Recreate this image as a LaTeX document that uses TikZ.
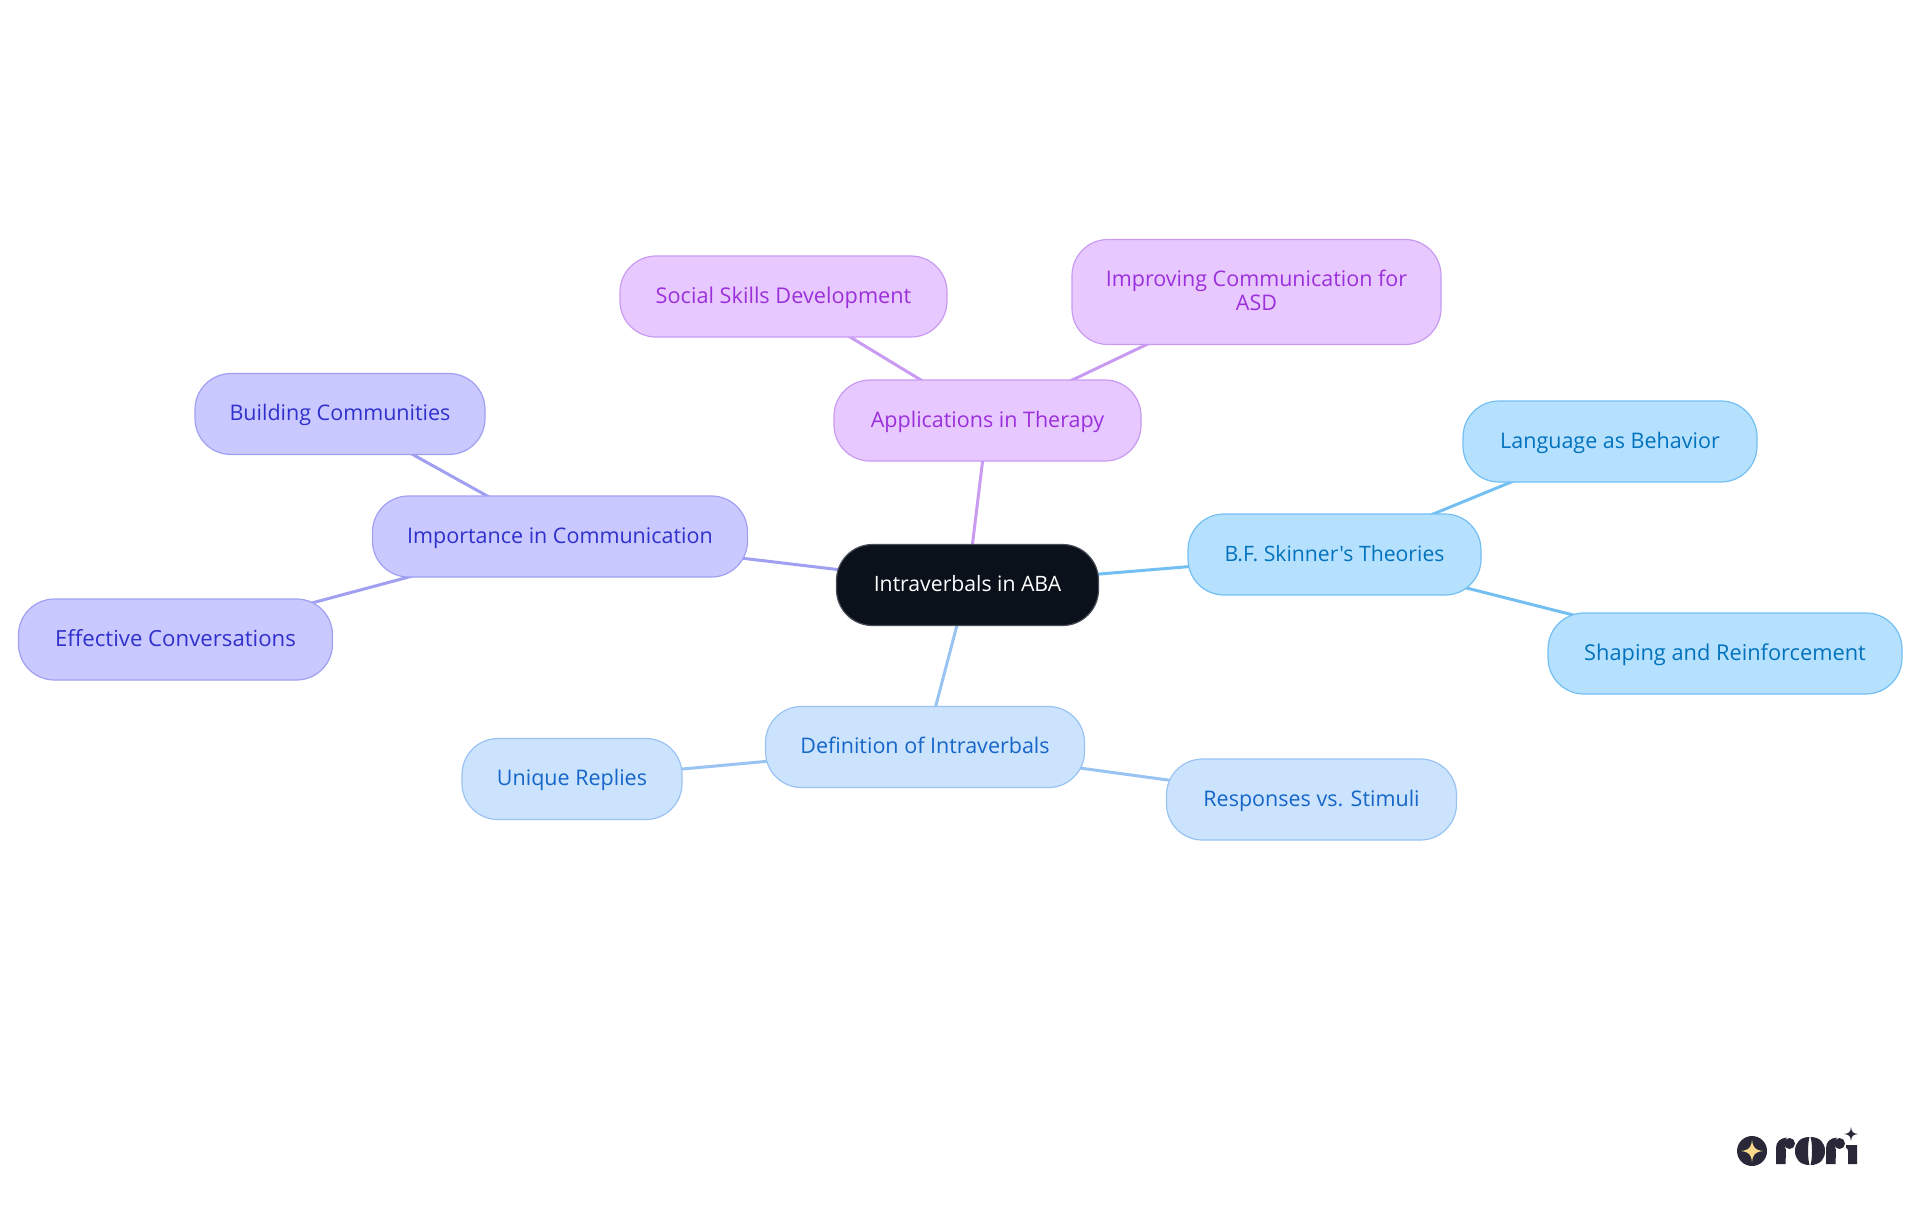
\documentclass[tikz,border=0pt]{standalone}
\usepackage{fontspec}
\setmainfont{Open Sans}[Ligatures=TeXOff]
\usetikzlibrary{backgrounds}
\definecolor{pf}{HTML}{E8C9FF}\definecolor{ps}{HTML}{C99AF2}\definecolor{pt}{HTML}{9B30DB}
\definecolor{if}{HTML}{C9C9FF}\definecolor{is}{HTML}{A09FF2}\definecolor{it}{HTML}{3030CC}
\definecolor{bf}{HTML}{CCE3FD}\definecolor{bs}{HTML}{99C3F2}\definecolor{bt}{HTML}{1566C8}
\definecolor{sf}{HTML}{B5E1FF}\definecolor{ss}{HTML}{74BFF2}\definecolor{st}{HTML}{0272BD}
\definecolor{rootf}{HTML}{0B111B}\definecolor{logoc}{HTML}{2A2838}\definecolor{stary}{HTML}{FBD98A}
\tikzset{x=0.5pt,y=-0.5pt,
 mm/.style={rounded corners=18pt,line width=0.6pt,inner sep=0pt,align=center,text height=8.3pt,text depth=1.7pt,font=\fontsize{10.75}{12}\selectfont},
 fs/.style={font=\fontsize{#1}{12}\selectfont},
 rootnode/.style={mm,fill=rootf,draw=rootf!75!white,text=white},
 pnode/.style={mm,fill=pf,draw=ps,text=pt},
 inode/.style={mm,fill=if,draw=is,text=it},
 bnode/.style={mm,fill=bf,draw=bs,text=bt},
 snode/.style={mm,fill=sf,draw=ss,text=st},
 edge/.style={line width=1.5pt},
 logoshape/.style={fill=logoc,draw=none}}
\newcommand{\rletter}{%
 \fill[logoshape] (1776,1164) -- (1776,1148) .. controls (1776,1142) and (1780,1138) .. (1787,1137.5) .. controls (1784,1141) and (1784,1146) .. (1786,1150) -- (1785.5,1164) -- cycle;
 \fill[logoshape] (1789.5,1143.5) circle (5.5);}
\begin{document}
\begin{tikzpicture}
\useasboundingbox (0,0) rectangle (1920,1215);
\node[rootnode,fs=10.6,minimum width=131pt,minimum height=40.5pt] (root) at (967.5,585) {Intraverbals in ABA};
\node[pnode,minimum width=153.5pt,minimum height=40.5pt] (app) at (987.5,420.5) {Applications in Therapy};
\node[pnode,fs=10.85,minimum width=163.5pt,minimum height=40.5pt] (soc) at (783.5,296.5) {Social Skills Development};
\node[pnode,text height=20pt,text depth=2pt,minimum width=184.5pt,minimum height=52.5pt] (imp) at (1256.5,292) {Improving Communication for\\ASD};
\node[inode,minimum width=187.5pt,minimum height=40.5pt] (comm) at (560,536.5) {Importance in Communication};
\node[inode,minimum width=145pt,minimum height=40.5pt] (bld) at (340,414) {Building Communities};
\node[inode,fs=11.1,minimum width=157pt,minimum height=40.5pt] (eff) at (175.5,639.5) {Effective Conversations};
\node[bnode,minimum width=159.5pt,minimum height=40.5pt] (def) at (925,747) {Definition of Intraverbals};
\node[bnode,minimum width=110pt,minimum height=40.5pt] (uni) at (572,779) {Unique Replies};
\node[bnode,minimum width=145pt,minimum height=40.5pt] (res) at (1311.5,799.5) {Responses vs. Stimuli};
\node[snode,fs=10.6,minimum width=146.5pt,minimum height=40.5pt] (bfs) at (1334.5,554.5) {B.F. Skinner's Theories};
\node[snode,minimum width=147pt,minimum height=40.5pt] (lan) at (1610,441.5) {Language as Behavior};
\node[snode,fs=10.9,minimum width=177pt,minimum height=40.5pt] (sha) at (1725,653.5) {Shaping and Reinforcement};
\begin{pgfonlayer}{background}
\draw[edge,draw=ps] (root.center)--(app.center) (app.center)--(soc.center) (app.center)--(imp.center);
\draw[edge,draw=is] (root.center)--(comm.center) (comm.center)--(bld.center) (comm.center)--(eff.center);
\draw[edge,draw=bs] (root.center)--(def.center) (def.center)--(uni.center) (def.center)--(res.center);
\draw[edge,draw=ss] (root.center)--(bfs.center) (bfs.center)--(lan.center) (bfs.center)--(sha.center);
\end{pgfonlayer}
% logo
\fill[logoshape] (1752,1151) circle (15);
\fill[stary] (1752,1140) .. controls (1753,1148) and (1755,1150) .. (1763,1151) .. controls (1755,1152) and (1753,1154) .. (1752,1162) .. controls (1751,1154) and (1749,1152) .. (1741,1151) .. controls (1749,1150) and (1751,1148) .. (1752,1140) -- cycle;
\rletter
\begin{scope}[shift={(50,0)}]\rletter\end{scope}
\fill[logoshape] (1809.5,1137) .. controls (1800,1137) and (1795,1143) .. (1795,1151) .. controls (1795,1159) and (1800,1165) .. (1809.5,1165) .. controls (1807.5,1158) and (1807.5,1144) .. (1809.5,1137) -- cycle;
\fill[logoshape] (1810.5,1137) .. controls (1820,1137) and (1825,1143) .. (1825,1151) .. controls (1825,1159) and (1820,1165) .. (1810.5,1165) .. controls (1812.5,1158) and (1812.5,1144) .. (1810.5,1137) -- cycle;
\fill[logoshape] (1846,1145) -- (1857,1145) -- (1857,1164) -- (1848,1164) -- (1848,1151) .. controls (1848,1149) and (1847,1148) .. (1846,1148) -- cycle;
\fill[logoshape] (1851,1127) .. controls (1851.5,1132) and (1853,1133.5) .. (1858,1134) .. controls (1853,1134.5) and (1851.5,1136) .. (1851,1141) .. controls (1850.5,1136) and (1849,1134.5) .. (1844,1134) .. controls (1849,1133.5) and (1850.5,1132) .. (1851,1127) -- cycle;
\end{tikzpicture}
\end{document}
